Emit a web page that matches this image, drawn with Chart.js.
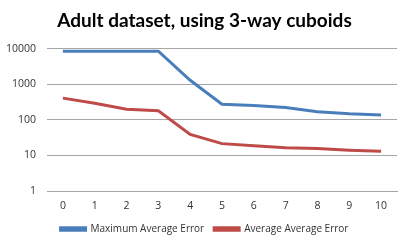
<!DOCTYPE html>
<html>
<head>
<meta charset="utf-8">
<script src="https://cdn.jsdelivr.net/npm/chart.js@4"></script>
<style>
  body { margin: 0; background: #fff; }
  #wrap { width: 409px; height: 245px; }
</style>
</head>
<body>
<div id="wrap"><canvas id="chart"></canvas></div>
<script>
const labels = ['0', '1', '2', '3', '4', '5', '6', '7', '8', '9', '10'];
const maxAvgError = [8600, 8600, 8600, 8600, 1300, 277, 254, 223, 170, 148, 138];
const avgAvgError = [410, 295, 200, 180, 39, 21.5, 18.7, 16.4, 15.7, 14.1, 13.2];
const yTicks = [1, 10, 100, 1000, 10000];

const ctx = document.getElementById('chart');

const chart = new Chart(ctx, {
  type: 'line',
  data: {
    labels: labels,
    datasets: [{
      label: 'Maximum Average Error',
      data: maxAvgError,
      borderColor: '#4a7ebb',
      backgroundColor: '#4a7ebb',
      borderWidth: 3,
      pointRadius: 0,
      tension: 0
    }, {
      label: 'Average Average Error',
      data: avgAvgError,
      borderColor: '#be4b48',
      backgroundColor: '#be4b48',
      borderWidth: 3,
      pointRadius: 0,
      tension: 0
    }]
  },
  options: {
    responsive: true,
    maintainAspectRatio: false,
    animation: false,
    layout: {
      padding: { left: 0, right: 0, top: 0, bottom: 1 }
    },
    plugins: {
      title: {
        display: true,
        text: 'Adult dataset, using 3-way cuboids',
        color: '#000',
        font: { family: 'Lato', size: 19, weight: 'bold' },
        padding: { top: 9, bottom: 17 }
      },
      legend: {
        position: 'bottom',
        labels: {
          color: '#333',
          font: { family: 'Open Sans', size: 10 },
          boxWidth: 25,
          boxHeight: 2.5,
          padding: 10
        }
      },
      tooltip: { enabled: false }
    },
    scales: {
      x: {
        offset: true,
        grid: { display: false },
        border: { color: '#a6a6a6' },
        ticks: {
          color: '#333',
          font: { family: 'Open Sans', size: 10.5 },
          maxRotation: 0,
          padding: 1
        },
        afterFit: function (scale) { scale.height = 23; }
      },
      y: {
        type: 'logarithmic',
        min: 1,
        max: 10000,
        grid: { color: '#a6a6a6', drawTicks: false },
        border: { display: false },
        ticks: {
          color: '#333',
          font: { family: 'Open Sans', size: 10.5 },
          padding: 11,
          callback: function (v) { return String(v); }
        },
        afterBuildTicks: function (scale) {
          scale.ticks = yTicks.map(function (v) { return { value: v }; });
        },
        afterFit: function (scale) { scale.width = 47; }
      },
      // empty right-hand spacer so the title and legend stay centred on the page
      spacer: {
        position: 'right',
        grid: { display: false },
        border: { display: false },
        ticks: { display: false },
        afterFit: function (scale) { scale.width = 12; }
      }
    }
  }
});
</script>
</body>
</html>
